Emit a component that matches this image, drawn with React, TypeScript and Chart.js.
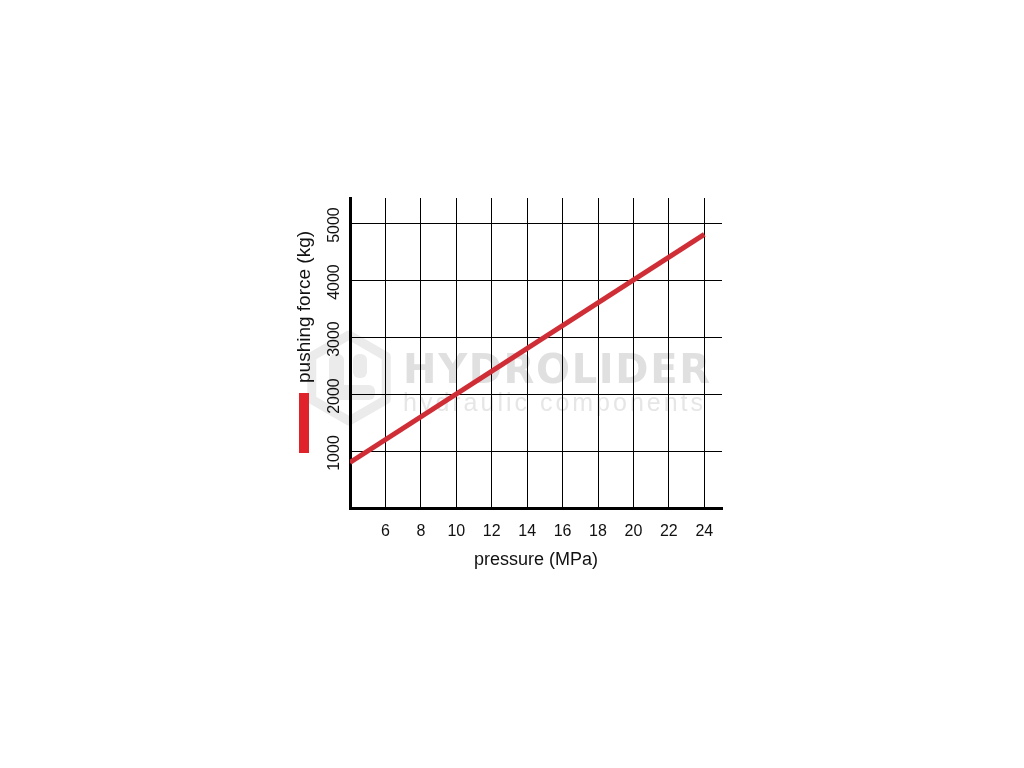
import React, { useEffect, useRef } from "react";
import { Chart, registerables } from "chart.js";

Chart.register(...registerables);

// ---- data ----
const pressureMPa = [4, 24];
const pushingForceKg = [800, 4800];
const xTickValues = [6, 8, 10, 12, 14, 16, 18, 20, 22, 24];
const yTickValues = [1000, 2000, 3000, 4000, 5000];
const seriesLabel = "pushing force (kg)";
const xTitle = "pressure (MPa)";
const watermarkTitle = "HYDROLIDER";
const watermarkSubtitle = "hydraulic components";

const FONT = "'Liberation Sans', Arial, Helvetica, sans-serif";
const LINE_COLOR = "#d02e36";
const SWATCH_COLOR = "#e0232b";
const TEXT_COLOR = "#111111";

const watermarkPlugin = {
  id: "watermark",
  beforeDraw(chart: any) {
    const { ctx, chartArea } = chart;
    const ox = chartArea.left;
    const oy = chartArea.top;
    ctx.save();
    // hexagon logo
    const cx = ox - 1;
    const cy = oy + 180;
    const R = 43;
    ctx.beginPath();
    for (let k = 0; k < 6; k++) {
      const a = (-90 + 60 * k) * (Math.PI / 180);
      const px = cx + R * Math.cos(a);
      const py = cy + R * Math.sin(a);
      if (k === 0) ctx.moveTo(px, py);
      else ctx.lineTo(px, py);
    }
    ctx.closePath();
    ctx.lineWidth = 9;
    ctx.lineJoin = "round";
    ctx.strokeStyle = "#ebebeb";
    ctx.stroke();
    ctx.fillStyle = "#ebebeb";
    const rr = (x: number, y: number, w: number, h: number, r: number) => {
      ctx.beginPath();
      ctx.roundRect(x, y, w, h, r);
      ctx.fill();
    };
    rr(cx - 20, cy - 24, 15, 46, 6);
    rr(cx - 20, cy + 7, 46, 15, 6);
    rr(cx + 4, cy - 24, 14, 24, 6);

    // title text
    ctx.fillStyle = "#e0e0e0";
    ctx.textAlign = "left";
    ctx.textBaseline = "alphabetic";
    ctx.font = "bold 40px 'DejaVu Sans', sans-serif";
    const w1 = ctx.measureText(watermarkTitle).width;
    ctx.letterSpacing = Math.max(0, (307 - w1) / (watermarkTitle.length - 1)) + "px";
    ctx.fillText(watermarkTitle, ox + 53, oy + 185);
    ctx.letterSpacing = "0px";
    ctx.fillStyle = "#e6e6e6";
    ctx.font = "25px 'Liberation Sans', sans-serif";
    const w2 = ctx.measureText(watermarkSubtitle).width;
    ctx.letterSpacing = Math.max(0, (300 - w2) / (watermarkSubtitle.length - 1)) + "px";
    ctx.fillText(watermarkSubtitle, ox + 53, oy + 213);
    ctx.restore();
  },
};

const yLabelsLegendPlugin = {
  id: "yLabelsLegend",
  afterDraw(chart: any) {
    const { ctx, chartArea, scales } = chart;
    const y = scales.y;
    ctx.save();
    ctx.fillStyle = TEXT_COLOR;
    ctx.font = `16px ${FONT}`;
    ctx.textAlign = "center";
    ctx.textBaseline = "middle";
    y.ticks.forEach((t: any) => {
      const py = y.getPixelForValue(t.value);
      ctx.save();
      ctx.translate(chartArea.left - 15, py + 2);
      ctx.rotate(-Math.PI / 2);
      ctx.fillText(String(t.value), 0, 0);
      ctx.restore();
    });
    // rotated legend: swatch + label
    const ds = chart.data.datasets[0];
    const lx = chartArea.left - 45;
    ctx.fillStyle = SWATCH_COLOR;
    ctx.fillRect(lx - 6, chartArea.top + 195, 10, 60);
    ctx.fillStyle = TEXT_COLOR;
    ctx.font = `19px ${FONT}`;
    ctx.textAlign = "left";
    ctx.translate(lx, chartArea.top + 185);
    ctx.rotate(-Math.PI / 2);
    ctx.fillText(ds.label, 0, 0);
    ctx.restore();
  },
};

export default function App() {
  const canvasRef = useRef<HTMLCanvasElement | null>(null);

  useEffect(() => {
    if (!canvasRef.current) return;
    const chart = new Chart(canvasRef.current, {
      type: "line",
      data: {
        datasets: [
          {
            label: seriesLabel,
            data: pressureMPa.map((x, i) => ({ x, y: pushingForceKg[i] })),
            borderColor: LINE_COLOR,
            backgroundColor: LINE_COLOR,
            borderWidth: 5,
            pointRadius: 0,
            tension: 0,
            borderCapStyle: "butt",
          },
        ],
      },
      options: {
        responsive: false,
        animation: false,
        devicePixelRatio: 1,
        layout: { padding: { left: 290, right: 302, top: 198, bottom: 190 } },
        plugins: {
          legend: { display: false },
          tooltip: { enabled: false },
        },
        scales: {
          x: {
            type: "linear",
            min: 4,
            max: 25,
            afterFit: (s: any) => {
              s.height = 70;
            },
            afterBuildTicks: (s: any) => {
              s.ticks = xTickValues.map((v) => ({ value: v }));
            },
            grid: { color: "#000", lineWidth: 1, drawTicks: false },
            border: { color: "#000", width: 3 },
            ticks: {
              padding: 14,
              color: TEXT_COLOR,
              font: { family: FONT, size: 16 },
              maxRotation: 0,
              autoSkip: false,
              callback: (v: any) => String(v),
            },
            title: {
              display: true,
              text: xTitle,
              color: TEXT_COLOR,
              font: { family: FONT, size: 18 },
              padding: { top: 0, bottom: 7 },
            },
          },
          y: {
            type: "linear",
            min: 0,
            max: 5440,
            afterFit: (s: any) => {
              s.width = 60;
            },
            afterBuildTicks: (s: any) => {
              s.ticks = yTickValues.map((v) => ({ value: v }));
            },
            grid: { color: "#000", lineWidth: 1, drawTicks: false },
            border: { color: "#000", width: 3 },
            ticks: { display: false, callback: (v: any) => String(v) },
          },
        },
      },
      plugins: [watermarkPlugin, yLabelsLegendPlugin],
    } as any);
    return () => chart.destroy();
  }, []);

  return (
    <div
      style={{
        position: "fixed",
        left: 0,
        top: 0,
        width: 1024,
        height: 768,
        background: "#fff",
      }}
    >
      <canvas ref={canvasRef} width={1024} height={768} style={{ display: "block" }} />
    </div>
  );
}
